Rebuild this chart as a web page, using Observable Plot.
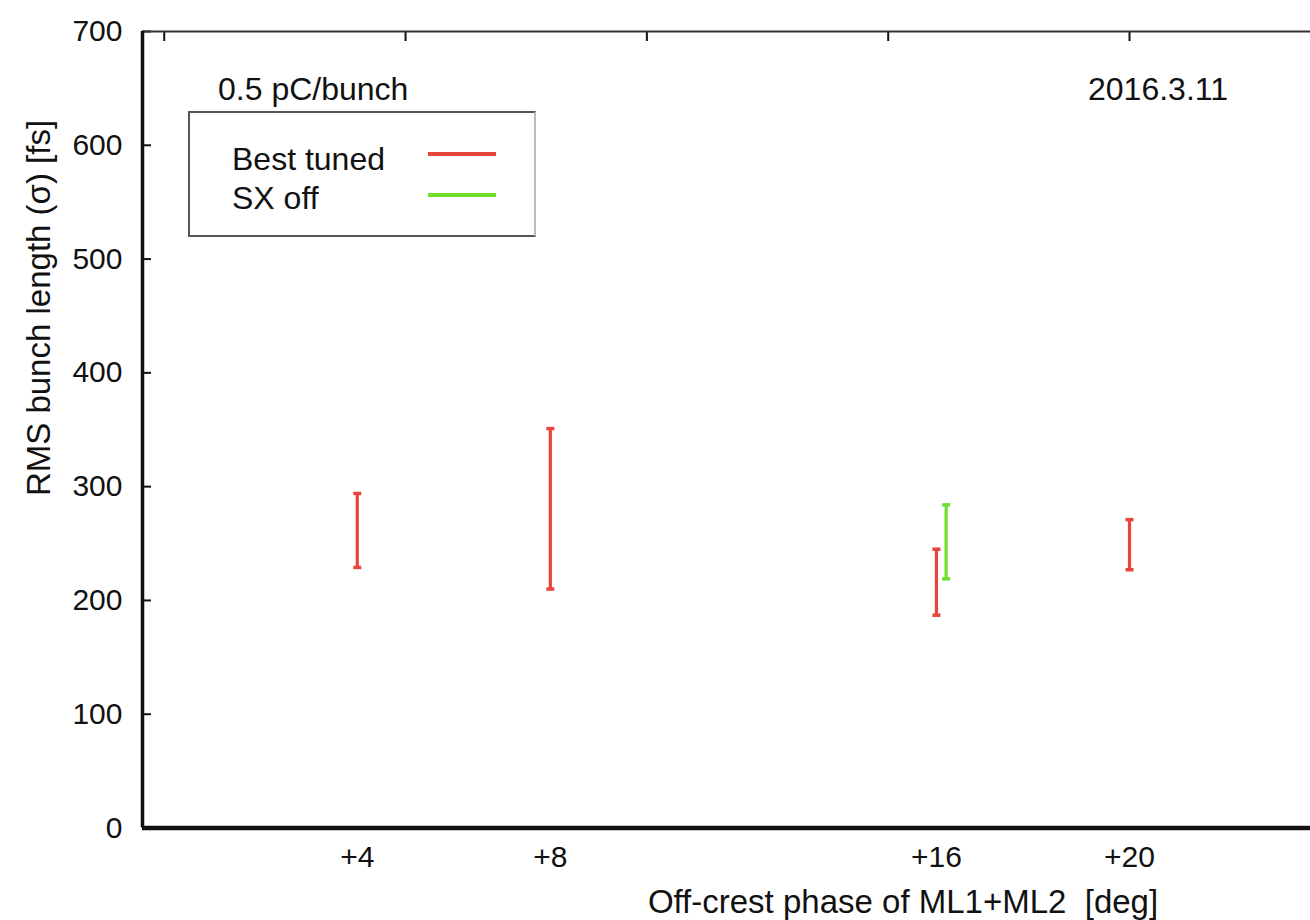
<!DOCTYPE html>
<html>
<head>
<meta charset="utf-8">
<script src="https://cdn.jsdelivr.net/npm/d3@7"></script>
<script src="https://cdn.jsdelivr.net/npm/@observablehq/plot@0.6"></script>
<style>
  html, body { margin: 0; padding: 0; background: #fff; }
  #wrap { position: relative; width: 1310px; height: 920px; overflow: hidden;
          font-family: "Liberation Sans", Arial, Helvetica, sans-serif; color: #111; }
  .ann { position: absolute; font-size: 32px; line-height: 1; white-space: nowrap; }
  #legend { position: absolute; left: 188px; top: 111px; width: 348px; height: 126px;
            border: 2px solid #555; border-right-color: #bbb; box-sizing: border-box; background: #fff; }
  .lrow { position: absolute; left: 42px; font-size: 32px; line-height: 1; white-space: nowrap; }
  .lsw { position: absolute; left: 238px; width: 68px; height: 4px; }
  #ylabel { position: absolute; left: 38px; top: 308px; font-size: 33px; white-space: pre;
            transform: translate(-50%, -50%) rotate(-90deg); line-height: 1; }
  #xlabel { position: absolute; left: 903px; top: 901px; font-size: 33px; white-space: pre;
            transform: translate(-50%, -50%); line-height: 1; }
</style>
</head>
<body>
<div id="wrap"></div>
<script>
// ---- data ----
const phases = [4, 8, 16, 20];
const phaseLabels = ["+4", "+8", "+16", "+20"];
const bestLow  = [229, 210, 187, 227];
const bestHigh = [294, 351, 245, 271];
const sxPhase = [16.2];
const sxLow  = [219];
const sxHigh = [284];
const yTicks = [0, 100, 200, 300, 400, 500, 600, 700];
const topTicks = [0, 5, 10, 15, 20];
const seriesNames = ["Best tuned", "SX off"];
const seriesColors = ["#e8463c", "#6ee02c"];
const chargeNote = "0.5 pC/bunch";
const dateNote = "2016.3.11";
const xTitle = "Off-crest phase of ML1+ML2  [deg]";
const yTitle = "RMS bunch length (σ) [fs]";

const best = phases.map((x, i) => ({x, lo: bestLow[i], hi: bestHigh[i]}));
const sx = sxPhase.map((x, i) => ({x, lo: sxLow[i], hi: sxHigh[i]}));
const xDomain = [-0.45, 23.75];
const yDomain = [0, 700];

// horizontal cap symbol for error bars
const capSymbol = {
  draw(context, size) {
    const r = Math.sqrt(size / Math.PI);
    context.moveTo(-r, 0);
    context.lineTo(r, 0);
  }
};

function errorBars(data, color) {
  return [
    Plot.link(data, {x1: "x", x2: "x", y1: "lo", y2: "hi", stroke: color, strokeWidth: 3.2}),
    Plot.dot(data, {x: "x", y: "lo", symbol: capSymbol, r: 4, stroke: color, strokeWidth: 3.5}),
    Plot.dot(data, {x: "x", y: "hi", symbol: capSymbol, r: 4, stroke: color, strokeWidth: 3.5})
  ];
}

const chart = Plot.plot({
  width: 1310, height: 920,
  marginLeft: 142, marginRight: 0, marginTop: 31, marginBottom: 92.5,
  style: {fontFamily: '"Liberation Sans", Arial, Helvetica, sans-serif', fontSize: "30px", color: "#111", background: "transparent"},
  x: {domain: xDomain, axis: null},
  y: {domain: yDomain, axis: null},
  marks: [
    // y tick labels
    Plot.axisY({ticks: yTicks, anchor: "left", tickSize: 0, tickPadding: 20, fontSize: 30, label: null}),
    // inward y ticks
    Plot.axisY({ticks: yTicks, anchor: "left", tickSize: 9, dx: 9, tickFormat: () => "", label: null, strokeWidth: 2}),
    // inward top ticks
    Plot.axisX({ticks: topTicks, anchor: "top", tickSize: 9, dy: 9, tickFormat: () => "", label: null, strokeWidth: 2}),
    // bottom labels
    Plot.axisX({ticks: phases, anchor: "bottom", tickSize: 0, tickPadding: 18, fontSize: 30,
                tickFormat: d => phaseLabels[phases.indexOf(d)], label: null}),
    // frame
    Plot.ruleY([yDomain[1]], {stroke: "#333", strokeWidth: 2}),
    Plot.ruleX([xDomain[0]], {stroke: "#111", strokeWidth: 3.5}),
    Plot.ruleY([yDomain[0]], {stroke: "#111", strokeWidth: 4.5}),
    // error bars
    ...errorBars(best, seriesColors[0]),
    ...errorBars(sx, seriesColors[1])
  ]
});

const wrap = document.getElementById("wrap");
wrap.appendChild(chart);

function addDiv(cls, id, text, style) {
  const d = document.createElement("div");
  if (cls) d.className = cls;
  if (id) d.id = id;
  d.textContent = text;
  Object.assign(d.style, style || {});
  wrap.appendChild(d);
  return d;
}
addDiv("ann", null, chargeNote, {left: "218px", top: "73px"});
addDiv("ann", null, dateNote, {left: "1088px", top: "73px"});
addDiv(null, "ylabel", yTitle);
addDiv(null, "xlabel", xTitle);

const legend = document.createElement("div");
legend.id = "legend";
seriesNames.forEach((name, i) => {
  const t = document.createElement("div");
  t.className = "lrow";
  t.textContent = name;
  t.style.top = (30 + i * 39) + "px";
  legend.appendChild(t);
  const s = document.createElement("div");
  s.className = "lsw";
  s.style.background = seriesColors[i];
  s.style.top = (39 + i * 41) + "px";
  legend.appendChild(s);
});
wrap.appendChild(legend);
</script>
</body>
</html>
